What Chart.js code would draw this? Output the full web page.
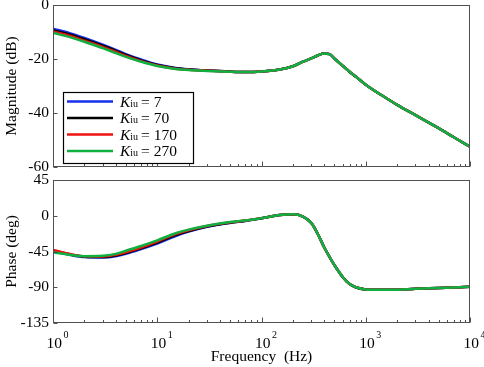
<!DOCTYPE html>
<html lang="en">
<head>
<meta charset="UTF-8">
<title>Bode plot - Kiu</title>
<script src="https://cdn.jsdelivr.net/npm/chart.js"></script>
<style>
  html, body { margin: 0; padding: 0; background: #fff; }
  body { width: 484px; height: 367px; position: relative; overflow: hidden; }
  .panel { position: absolute; left: 0; width: 484px; }
  #magBox { top: -10px; height: 195px; }
  #phaseBox { top: 165px; height: 202px; }
</style>
</head>
<body>
<div class="panel" id="magBox"><canvas id="magChart" width="484" height="195"></canvas></div>
<div class="panel" id="phaseBox"><canvas id="phaseChart" width="484" height="202"></canvas></div>
<script>
// frequency points (Hz)
const freq = [1, 1.5, 2, 3, 4, 5, 7, 10, 15, 20, 30, 50, 70, 100, 150, 200, 250, 300,
  350, 400, 450, 500, 600, 700, 800, 1000, 1500, 2000, 3000, 5000, 7000, 10000];

const kiuValues = [7, 70, 170, 270];
const seriesColors = ['#1530e8', '#000000', '#ee1111', '#10b040'];

// magnitude (dB)
const magK7 = [-8.8, -10.6, -12.2, -14.7, -16.6, -18.2, -20.2, -22.0, -23.3, -23.8, -24.25, -24.65,
  -24.8, -24.6, -23.9, -22.7, -21.0, -19.8, -18.6, -18.0, -18.2, -19.8, -22.5, -24.7, -26.5, -29.5,
  -34.0, -37.0, -40.8, -45.6, -49.0, -52.5];
const magK70 = [-9.3, -11.1, -12.7, -15.1, -17.0, -18.5, -20.5, -22.2, -23.45, -23.9, -24.3, -24.67,
  -24.8, -24.6, -23.9, -22.7, -21.0, -19.8, -18.6, -18.0, -18.2, -19.8, -22.5, -24.7, -26.5, -29.5,
  -34.0, -37.0, -40.8, -45.6, -49.0, -52.5];
const magK170 = [-9.8, -11.6, -13.2, -15.5, -17.4, -18.9, -20.8, -22.4, -23.6, -24.0, -24.35, -24.7,
  -24.8, -24.6, -23.9, -22.7, -21.0, -19.8, -18.6, -18.0, -18.2, -19.8, -22.5, -24.7, -26.5, -29.5,
  -34.0, -37.0, -40.8, -45.6, -49.0, -52.5];
const magK270 = [-10.3, -12.1, -13.6, -16.0, -17.8, -19.2, -21.0, -22.6, -23.7, -24.1, -24.4, -24.7,
  -24.8, -24.6, -23.9, -22.7, -21.0, -19.8, -18.6, -18.0, -18.2, -19.8, -22.5, -24.7, -26.5, -29.5,
  -34.0, -37.0, -40.8, -45.6, -49.0, -52.5];

// phase (deg)
const phK7 = [-44.5, -49.5, -52, -52.5, -51, -48, -42, -35, -25.5, -20, -14, -9,
  -6.5, -3.2, 0.8, 1.8, -1, -9, -24, -40, -52, -62, -77, -86, -90, -92.7,
  -93.3, -93, -92, -91, -90.3, -89.5];
const phK70 = [-44, -49, -51.5, -52, -50, -47, -41, -33.8, -24.3, -19.2, -13.5, -8.7,
  -6.3, -3.1, 0.8, 1.8, -1, -9, -24, -40, -52, -62, -77, -86, -90, -92.7,
  -93.3, -93, -92, -91, -90.3, -89.5];
const phK170 = [-43, -48.5, -51, -51.3, -49, -46, -40, -32.5, -23.2, -18.3, -13, -8.3,
  -6.1, -3.0, 0.8, 1.8, -1, -9, -24, -40, -52, -62, -77, -86, -90, -92.7,
  -93.3, -93, -92, -91, -90.3, -89.5];
const phK270 = [-46, -49.5, -51, -50.5, -48, -44, -38, -31, -22, -17.5, -12.5, -8,
  -6, -3, 0.8, 1.8, -1, -9, -24, -40, -52, -62, -77, -86, -90, -92.7,
  -93.3, -93, -92, -91, -90.3, -89.5];

const decadeExps = [0, 1, 2, 3, 4];

Chart.defaults.font.family = "'Liberation Serif', 'Times New Roman', serif";
Chart.defaults.font.size = 15.5;
Chart.defaults.color = '#000';

// frame, inward ticks and 10^n labels
const bodeFrame = {
  id: 'bodeFrame',
  afterDatasetsDraw(chart, args, opts) {
    const { ctx, chartArea: a } = chart;
    const xs = chart.scales.x, ys = chart.scales.y;
    const L = Math.round(a.left) + 0.5, T = Math.round(a.top) + 0.5;
    const R = Math.round(a.right) - 0.5, B = Math.round(a.bottom) - 0.5;
    ctx.save();
    ctx.strokeStyle = '#505050';
    ctx.lineWidth = 1;
    ctx.strokeRect(L, T, R - L, B - T);
    ctx.beginPath();
    decadeExps.forEach(e => {
      for (let m = 1; m <= 9; m++) {
        if (e === 4 && m > 1) break;
        const px = Math.round(xs.getPixelForValue(m * Math.pow(10, e))) + 0.5;
        const len = m === 1 ? 5 : 2.5;
        ctx.moveTo(px, B);
        ctx.lineTo(px, B - len);
      }
    });
    ys.ticks.forEach(t => {
      const py = Math.round(ys.getPixelForValue(t.value)) + 0.5;
      ctx.moveTo(L, py);
      ctx.lineTo(L + 4, py);
    });
    ctx.stroke();

    if (opts.xLabels) {
      ctx.fillStyle = '#000';
      ctx.textBaseline = 'alphabetic';
      ctx.textAlign = 'left';
      decadeExps.forEach(e => {
        const px = xs.getPixelForValue(Math.pow(10, e));
        ctx.font = "15.5px 'Liberation Serif'";
        const w = ctx.measureText('10').width;
        ctx.fillText('10', px - 6.5, B + 25);
        ctx.font = "10px 'Liberation Serif'";
        ctx.fillText(String(e), px - 6.5 + w + 1.5, B + 15);
      });
    }
    ctx.restore();
  }
};

// legend with italic K and subscript "iu"
const kiuLegend = {
  id: 'kiuLegend',
  afterDraw(chart) {
    const { ctx, chartArea: a } = chart;
    const bx = a.left + 10, by = a.top + 87, bw = 130, bh = 71;
    ctx.save();
    ctx.fillStyle = '#fff';
    ctx.fillRect(bx, by, bw, bh);
    ctx.strokeStyle = '#000';
    ctx.lineWidth = 1.2;
    ctx.strokeRect(bx + 0.5, by + 0.5, bw, bh);
    kiuValues.forEach((k, i) => {
      const rowY = by + 9.5 + i * 16.5;
      ctx.strokeStyle = seriesColors[i];
      ctx.lineWidth = 2.5;
      ctx.beginPath();
      ctx.moveTo(bx + 4, rowY);
      ctx.lineTo(bx + 50, rowY);
      ctx.stroke();
      ctx.fillStyle = '#000';
      ctx.textBaseline = 'alphabetic';
      ctx.textAlign = 'left';
      let tx = bx + 57;
      const base = rowY + 5;
      ctx.font = "italic 15.5px 'Liberation Serif'";
      ctx.fillText('K', tx, base);
      tx += ctx.measureText('K').width;
      ctx.font = "10px 'Liberation Serif'";
      ctx.fillText('iu', tx, base);
      tx += ctx.measureText('iu').width + 3;
      ctx.font = "15.5px 'Liberation Serif'";
      ctx.fillText('= ' + k, tx, base);
    });
    ctx.restore();
  }
};

function makeDatasets(series) {
  return series.map((vals, i) => ({
    label: 'Kiu = ' + kiuValues[i],
    data: freq.map((f, j) => ({ x: f, y: vals[j] })),
    borderColor: seriesColors[i],
    borderWidth: 2.5,
    pointRadius: 0,
    fill: false,
    cubicInterpolationMode: 'monotone',
    order: series.length - 1 - i
  }));
}

function makeOptions(yCfg, xHeight, showXLabels, xTitle) {
  return {
    responsive: false,
    animation: false,
    layout: { padding: { top: 15, right: 14, left: 0, bottom: 0 } },
    plugins: {
      legend: { display: false },
      tooltip: { enabled: false },
      bodeFrame: { xLabels: showXLabels }
    },
    scales: {
      x: {
        type: 'logarithmic',
        min: 1,
        max: 10000,
        ticks: { display: false },
        grid: { display: false, drawTicks: false },
        border: { display: false },
        title: xTitle ? { display: true, text: xTitle, padding: { top: 0, bottom: 1 } } : { display: false },
        afterFit: s => { s.height = xHeight; }
      },
      y: {
        min: yCfg.min,
        max: yCfg.max,
        ticks: { stepSize: yCfg.step, padding: 4, color: '#000' },
        grid: { display: false, drawTicks: false },
        border: { display: false },
        title: { display: true, text: yCfg.title, padding: { top: 3, bottom: 0 } },
        afterFit: s => { s.width = 53; }
      }
    }
  };
}

new Chart(document.getElementById('magChart'), {
  type: 'line',
  data: { datasets: makeDatasets([magK7, magK70, magK170, magK270]) },
  options: makeOptions({ min: -60, max: 0, step: 20, title: 'Magnitude (dB)' }, 18, false, null),
  plugins: [bodeFrame, kiuLegend]
});

new Chart(document.getElementById('phaseChart'), {
  type: 'line',
  data: { datasets: makeDatasets([phK7, phK70, phK170, phK270]) },
  options: makeOptions({ min: -135, max: 45, step: 45, title: 'Phase (deg)' }, 44, true, 'Frequency  (Hz)'),
  plugins: [bodeFrame]
});
</script>
</body>
</html>
